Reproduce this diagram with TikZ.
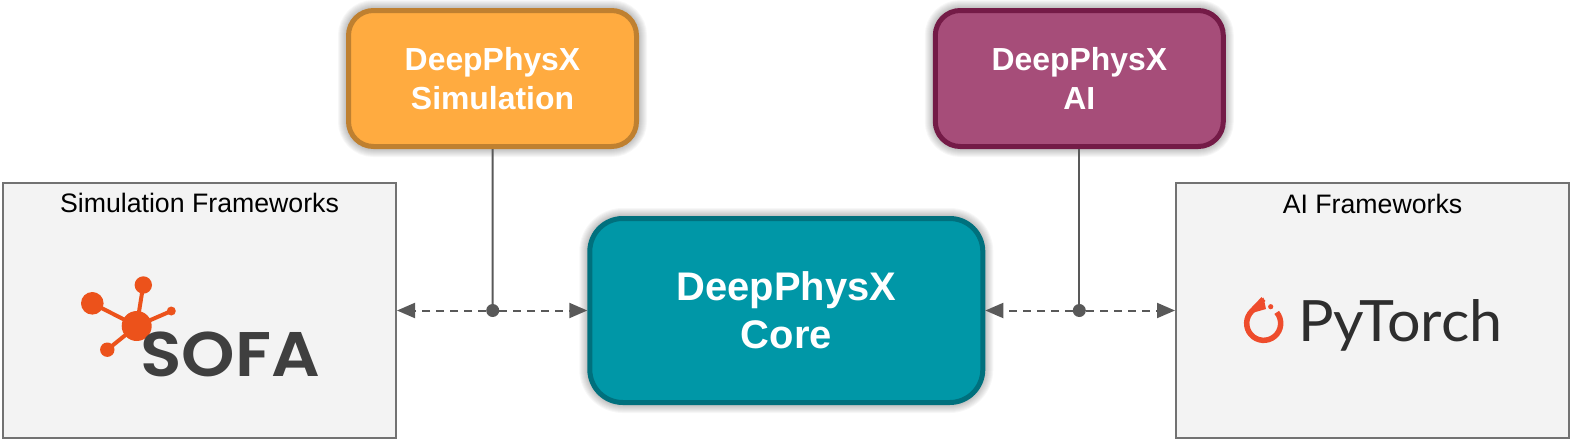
\documentclass[tikz,border=0pt]{standalone}
\usepackage{fontspec}
\setmainfont{Liberation Sans}
\newfontfamily\sofafont[FakeStretch=1.08]{Poppins SemiBold}
\newfontfamily\torchfont[FakeStretch=1.04]{Lato}
\usetikzlibrary{arrows.meta}
\definecolor{simfill}{HTML}{FFAB40}
\definecolor{simline}{HTML}{BF8030}
\definecolor{aifill}{HTML}{A64D79}
\definecolor{ailine}{HTML}{741B47}
\definecolor{corefill}{HTML}{0097A7}
\definecolor{coreline}{HTML}{00707D}
\definecolor{framefill}{HTML}{F3F3F3}
\definecolor{linkgray}{HTML}{595959}
\definecolor{sofaorange}{HTML}{EC521B}
\definecolor{sofagray}{HTML}{3F3F3F}
\definecolor{torchred}{HTML}{EE4C2C}
\tikzset{
  halo/.style={preaction={draw=black,draw opacity=.03,line width=#1}},
  package/.style={draw, rounded corners=25, line width=5, align=center, text=white, inner sep=0,
    font=\fontsize{31.9}{39}\selectfont\bfseries,
    halo=21, halo=19, halo=17, halo=15, halo=13, halo=11, halo=9, halo=7},
  frame/.style={draw=linkgray!85, fill=framefill, line width=2, inner sep=0},
  frametitle/.style={anchor=base, inner sep=0, font=\fontsize{26.7}{32}\selectfont},
  link/.style={draw=linkgray, line width=2},
  access/.style={draw=linkgray, line width=2, dashed, dash pattern=on 8 off 6,
    -{Triangle[length=18,width=15]}},
  joint/.style={circle, fill=linkgray, minimum size=13, inner sep=0},
}
\begin{document}
\begin{tikzpicture}[x=1pt, y=-1pt]
\useasboundingbox (0,0) rectangle (1572,442);
\node[frame, minimum width=393, minimum height=255] (P_sim_frame) at (199.5,310.5) {};
\node[frame, minimum width=393, minimum height=255] (P_ai_frame) at (1372.5,310.5) {};
\node[frametitle] (P_sim_title) at (199.5,212.5) {Simulation Frameworks};
\node[frametitle] (P_ai_title) at (1372.5,213.3) {AI Frameworks};
\node[package, fill=simfill, draw=simline, minimum width=288, minimum height=136] (P_sim) at (492.5,78.5) {DeepPhysX\\Simulation};
\node[package, fill=aifill, draw=ailine, minimum width=288, minimum height=136] (P_ai) at (1079.3,78.5) {DeepPhysX\\AI};
\node[package, fill=corefill, draw=coreline, rounded corners=33, minimum width=393, minimum height=184,
  font=\fontsize{39.9}{47.7}\selectfont\bfseries] (P_core) at (786.3,310.5) {DeepPhysX\\Core};
\node[joint] (P_sim_joint) at (492.7,310.5) {};
\node[joint] (P_ai_joint) at (1079.3,310.5) {};
\draw[link] (P_sim) -- (P_sim_joint);
\draw[link] (P_ai) -- (P_ai_joint);
\draw[access] (P_sim_joint) -- (P_sim_frame.east |- P_sim_joint);
\draw[access] (P_sim_joint) -- (P_core.west |- P_sim_joint);
\draw[access] (P_ai_joint) -- (P_core.east |- P_ai_joint);
\draw[access] (P_ai_joint) -- (P_ai_frame.west |- P_ai_joint);
\draw[sofaorange, line width=4] (136.7,326) -- (92.3,303.3) (136.7,326) -- (143.3,285) (136.7,326) -- (171.3,311) (136.7,326) -- (107.3,349.7);
\fill[sofaorange] (136.7,326) circle (15) (92.3,303.3) circle (11.3) (143.3,285) circle (8.7) (171.3,311) circle (4.5) (107.3,349.7) circle (7.2);
\fill[framefill] (160,347) circle (15);
\node[anchor=base west, inner sep=0, text=sofagray, font=\fontsize{63}{63}\selectfont\sofafont] (P_sofa) at (140,376.7) {SOFA};
\draw[torchred, line width=5.5] (1276.7,312.4) arc (-40:225:17) -- (1263.5,299);
\fill[torchred] (1263.5,297.5) -- (1266,309) -- (1252,313) -- cycle;
\fill[torchred] (1270.7,306.7) circle (2.6);
\node[anchor=base west, inner sep=0, text=black!82, font=\fontsize{57}{57}\selectfont\torchfont] (P_torch) at (1298,341.7) {PyTorch};
\end{tikzpicture}
\end{document}
